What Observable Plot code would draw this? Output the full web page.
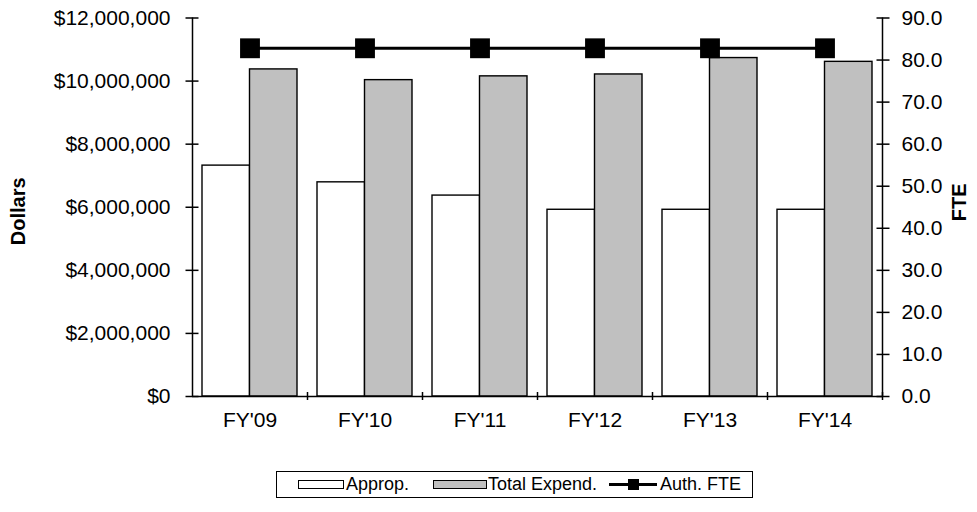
<!DOCTYPE html>
<html>
<head>
<meta charset="utf-8">
<script src="https://cdn.jsdelivr.net/npm/d3@7"></script>
<script src="https://cdn.jsdelivr.net/npm/@observablehq/plot@0.6"></script>
<style>
  html, body { margin: 0; padding: 0; background: #fff; }
  #wrap { position: relative; width: 977px; height: 512px; font-family: 'Liberation Sans', Arial, sans-serif; }
  #legend { position: absolute; left: 276px; top: 471px; width: 477px; height: 27px; box-sizing: border-box; border: 1px solid #000; font-size: 18px; color: #000; }
  #legend .sw { position: absolute; top: 8px; width: 46px; height: 9px; box-sizing: border-box; border: 1px solid #000; }
  #legend .tx { position: absolute; top: 2px; line-height: 20px; white-space: nowrap; }
  #legend .ln { position: absolute; top: 11px; height: 3px; background: #000; width: 48px; }
  #legend .sq { position: absolute; top: 7px; width: 11px; height: 11px; background: #000; }
</style>
</head>
<body>
<div id="wrap">
  <div id="chart"></div>
  <div id="legend"></div>
</div>
<script>
// ---- data ----
const years = ["FY'09", "FY'10", "FY'11", "FY'12", "FY'13", "FY'14"];
const approp = [7320000, 6790000, 6370000, 5920000, 5920000, 5920000];
const totalExpend = [10370000, 10030000, 10150000, 10210000, 10730000, 10610000];
const authFte = [82.8, 82.8, 82.8, 82.8, 82.8, 82.8];
const dollarTicks = [0, 2000000, 4000000, 6000000, 8000000, 10000000, 12000000];
const fteTicks = [0, 10, 20, 30, 40, 50, 60, 70, 80, 90];
const seriesNames = ["Approp.", "Total Expend.", "Auth. FTE"];
const leftTitle = "Dollars";
const rightTitle = "FTE";

// ---- layout ----
const W = 977, H = 460;
const mL = 192, mR = 95, mT = 17.5, mB = 64;
const step = (W - mL - mR) / years.length;
const pInner = 20 / 115;
const bandW = step * (1 - pInner);
const half = bandW / 2;
const dollarMax = 12000000, fteMax = 90;
const k = dollarMax / fteMax; // FTE -> dollar axis conversion

const rows = years.map((y, i) => ({year: y, approp: approp[i], total: totalExpend[i], fte: authFte[i]}));
const fmtDollar = d => "$" + d3.format(",")(d);

const chart = Plot.plot({
  width: W, height: H,
  marginLeft: mL, marginRight: mR, marginTop: mT, marginBottom: mB,
  style: {fontSize: "21px", fontFamily: "'Liberation Sans', Arial, sans-serif", background: "#fff", color: "#000", overflow: "visible"},
  x: {type: "band", domain: years, paddingInner: pInner, paddingOuter: pInner / 2},
  y: {domain: [0, dollarMax]},
  marks: [
    Plot.barY(rows, {x: "year", y: "approp", fill: "#ffffff", stroke: "#000", strokeWidth: 1.4, insetRight: half}),
    Plot.barY(rows, {x: "year", y: "total", fill: "#c0c0c0", stroke: "#000", strokeWidth: 1.4, insetLeft: half}),
    // frame lines
    Plot.ruleY([0], {stroke: "#000", strokeWidth: 1.5}),
    Plot.ruleX([years[0]], {x: d => d, dx: -step / 2, y1: 0, y2: dollarMax, stroke: "#000", strokeWidth: 1.5}),
    Plot.ruleX([years[years.length - 1]], {x: d => d, dx: step / 2, y1: 0, y2: dollarMax, stroke: "#000", strokeWidth: 1.5}),
    // category boundary ticks
    Plot.ruleX(years, {x: d => d, dx: step / 2, y1: 0, y2: 0, insetTop: -4, insetBottom: -4, stroke: "#000", strokeWidth: 1.5}),
    // axes
    Plot.axisX({tickSize: 0, tickPadding: 16, label: null}),
    Plot.axisY({anchor: "left", ticks: dollarTicks, tickFormat: fmtDollar, tickSize: 13, dx: 6.5, tickPadding: 15.5, strokeWidth: 1.5, label: null}),
    Plot.axisY({anchor: "right", ticks: fteTicks.map(v => v * k), tickFormat: d => (d / k).toFixed(1), tickSize: 13, dx: -6.5, tickPadding: 12.5, strokeWidth: 1.5, label: null}),
    // FTE line
    Plot.line(rows, {x: "year", y: d => d.fte * k, stroke: "#000", strokeWidth: 3}),
    Plot.dot(rows, {x: "year", y: d => d.fte * k, symbol: "square", r: 11.2, fill: "#000", stroke: "none"}),
    // axis titles
    Plot.text([leftTitle], {text: d => d, frameAnchor: "left", textAnchor: "middle", rotate: -90, dx: -173.5, dy: 4, fontWeight: "bold", fontSize: 20}),
    Plot.text([rightTitle], {text: d => d, frameAnchor: "right", textAnchor: "middle", rotate: -90, dx: 77, dy: -5, fontWeight: "bold", fontSize: 20})
  ]
});
document.getElementById("chart").appendChild(chart);

// ---- legend ----
const lg = document.getElementById("legend");
const left0 = 276;
lg.innerHTML = `
  <div class="sw" style="left:${297 - left0}px;background:#fff"></div>
  <div class="tx" style="left:${345 - left0}px">${seriesNames[0]}</div>
  <div class="sw" style="left:${432 - left0}px;width:54px;background:#c0c0c0"></div>
  <div class="tx" style="left:${487 - left0}px">${seriesNames[1]}</div>
  <div class="ln" style="left:${608 - left0}px"></div>
  <div class="sq" style="left:${627 - left0}px"></div>
  <div class="tx" style="left:${659 - left0}px">${seriesNames[2]}</div>
`;
</script>
</body>
</html>
